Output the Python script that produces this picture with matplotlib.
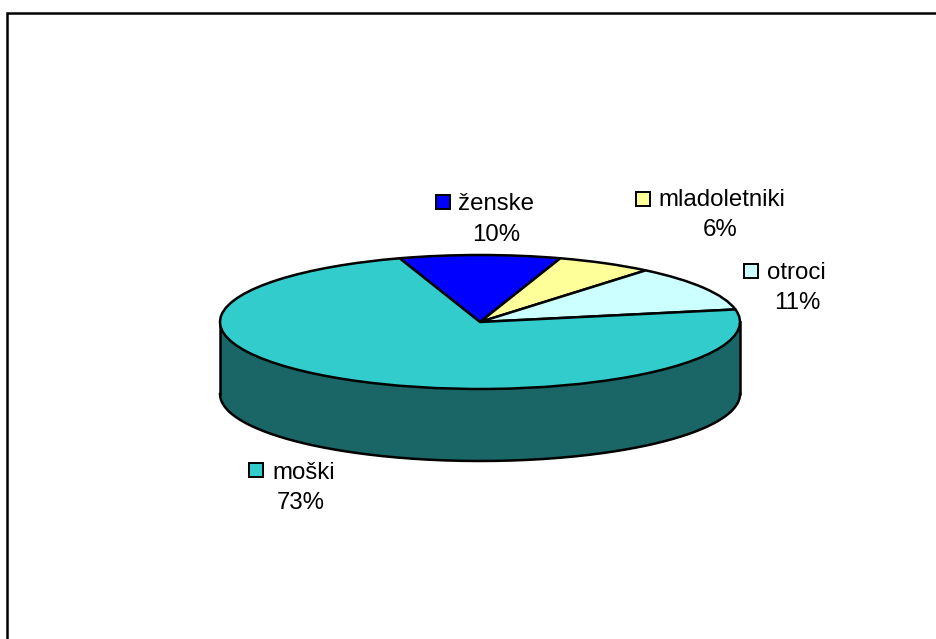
import matplotlib
matplotlib.use('Agg')
import matplotlib.pyplot as plt
from matplotlib.patches import Rectangle
import numpy as np

# categories and shares
categories = ['ženske', 'mladoletniki', 'otroci', 'moški']
shares = [10, 6, 11, 73]
colors = ['#0000FF', '#FFFF99', '#CCFFFF', '#33CCCC']
wall_color = '#1A6666'

# where the labels sit, pixels: key x, key y, name x, name y, percent x, percent y
label_pos = [
    (436.5, 194.5, 458, 204, 496, 235),
    (636.5, 191.5, 658, 200, 720, 230),
    (744.5, 263.5, 767, 273, 797, 303),
    (249.5, 462.5, 272, 473, 301, 503),
]

W, H = 937, 639
cx, cy = 480, 322
rx, ry = 260, 67
depth = 72

plt.rcParams['font.family'] = ['Liberation Sans', 'DejaVu Sans']
fig = plt.figure(figsize=(W / 100, H / 100), dpi=100)

# pie axes fills the figure, stretched so the unit circle becomes the flat ellipse
ax = fig.add_axes([0, 0, 1, 1])
ax.pie(shares, colors=colors, startangle=108, counterclock=False, radius=1,
       wedgeprops={'edgecolor': 'black', 'linewidth': 1.8, 'joinstyle': 'round'})
ax.set_aspect('auto')
ax.set_xlim(-cx / rx, (W - cx) / rx)
ax.set_ylim((cy - H) / ry, cy / ry)

# side of the disc
t = np.linspace(np.pi, 2 * np.pi, 200)
drop = depth / ry
ax.fill_between(np.cos(t), np.sin(t), np.sin(t) - drop, color=wall_color, lw=0, zorder=0)
ax.plot(np.cos(t), np.sin(t) - drop, color='black', lw=1.8, zorder=0.5)
ax.plot([-1, -1], [0, -drop], color='black', lw=1.8, zorder=0.5)
ax.plot([1, 1], [0, -drop], color='black', lw=1.8, zorder=0.5)

# overlay in pixels for border and labels
ov = fig.add_axes([0, 0, 1, 1], facecolor='none')
ov.set_xlim(0, W)
ov.set_ylim(H, 0)
ov.axis('off')
ov.plot([7.5, 7.5, W], [H, 12.5, 12.5], color='black', lw=1.8, solid_joinstyle='miter')

for name, share, col, pos in zip(categories, shares, colors, label_pos):
    kx, ky, nx, ny, px, py = pos
    ov.add_patch(Rectangle((kx, ky), 14, 14, facecolor=col, edgecolor='black', lw=1.4))
    ov.text(nx, ny, name, fontsize=17.3, ha='left', va='center', color='black')
    ov.text(px, py, f'{share}%', fontsize=17.3, ha='center', va='center', color='black')

fig.savefig('out.png', dpi=100)
